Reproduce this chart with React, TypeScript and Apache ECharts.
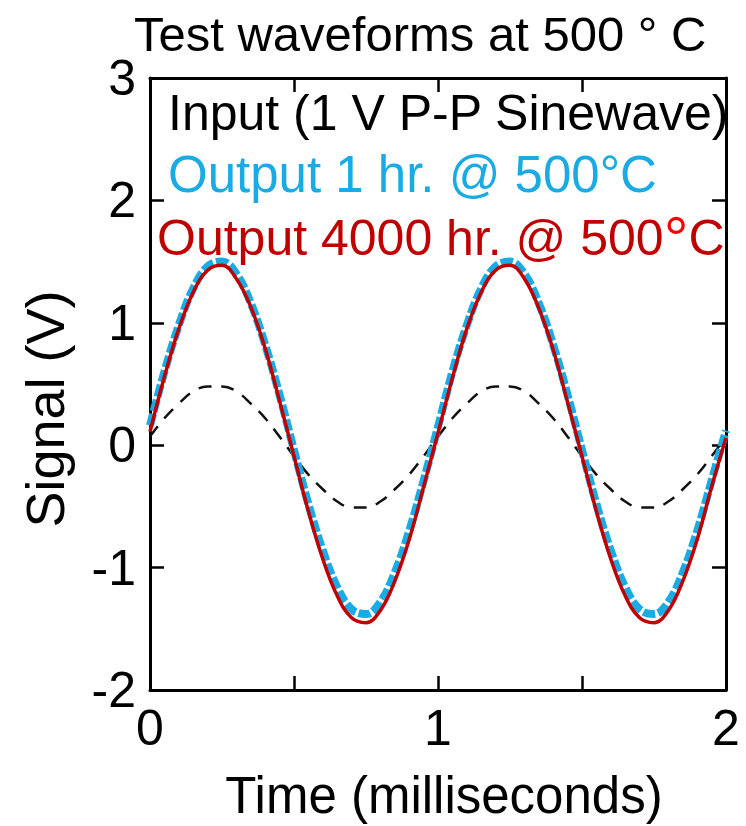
import React, { useEffect, useRef } from "react";
import * as echarts from "echarts";

const times = [
  0, 0.05, 0.1, 0.15, 0.2, 0.25, 0.3, 0.35, 0.4, 0.45,
  0.5, 0.55, 0.6, 0.65, 0.7, 0.75, 0.8, 0.85, 0.9, 0.95,
  1.0, 1.05, 1.1, 1.15, 1.2, 1.25, 1.3, 1.35, 1.4, 1.45,
  1.5, 1.55, 1.6, 1.65, 1.7, 1.75, 1.8, 1.85, 1.9, 1.95, 2.0,
];

const inputSignal = [
  0.07, 0.22, 0.34, 0.44, 0.48, 0.48, 0.44, 0.34, 0.22, 0.07,
  -0.09, -0.24, -0.36, -0.46, -0.51, -0.51, -0.46, -0.36, -0.24, -0.09,
  0.07, 0.22, 0.34, 0.44, 0.48, 0.48, 0.44, 0.34, 0.22, 0.07,
  -0.09, -0.24, -0.36, -0.46, -0.51, -0.51, -0.46, -0.36, -0.24, -0.09, 0.07,
];

const output1hr = [
  0.16, 0.6, 0.98, 1.28, 1.46, 1.5, 1.4, 1.16, 0.82, 0.41,
  -0.04, -0.48, -0.86, -1.16, -1.34, -1.38, -1.28, -1.04, -0.7, -0.29,
  0.15, 0.6, 0.98, 1.28, 1.46, 1.5, 1.4, 1.16, 0.82, 0.41,
  -0.04, -0.48, -0.86, -1.16, -1.34, -1.38, -1.28, -1.04, -0.7, -0.29, 0.12,
];

const output4000hr = [
  0.11, 0.56, 0.95, 1.25, 1.43, 1.47, 1.36, 1.13, 0.79, 0.36,
  -0.09, -0.54, -0.93, -1.23, -1.41, -1.45, -1.35, -1.11, -0.77, -0.34,
  0.1, 0.55, 0.95, 1.25, 1.43, 1.47, 1.36, 1.12, 0.78, 0.35,
  -0.09, -0.54, -0.93, -1.23, -1.41, -1.45, -1.35, -1.11, -0.77, -0.34, 0.06,
];

const titleText = "Test waveforms at 500 ° C";
const xName = "Time (milliseconds)";
const yName = "Signal (V)";
const legendInput = "Input (1 V P-P Sinewave)";
const legendOut1 = "Output 1 hr. @ 500°C";
const legendOut4000 = "Output 4000 hr. @ 500";

const FONT = "'Liberation Sans', Arial, sans-serif";

export default function App() {
  const ref = useRef<HTMLDivElement>(null);
  useEffect(() => {
    if (!ref.current) return;
    document.body.style.margin = "0";
    const chart = echarts.init(ref.current, null, { renderer: "svg" });
    const pair = (arr: number[]) => times.map((t, i) => [t, arr[i]]);
    const axisLine = { show: true, onZero: false, lineStyle: { color: "#000", width: 3 } };
    const axisTick = { show: true, inside: true, length: 14, lineStyle: { color: "#000", width: 2.5 } };
    chart.setOption({
      animation: false,
      backgroundColor: "#fff",
      title: {
        text: titleText,
        left: 134,
        top: 9,
        padding: 0,
        textStyle: { fontFamily: FONT, fontSize: 49, fontWeight: "normal", color: "#000" },
      },
      grid: {
        left: 150,
        right: 20,
        top: 78,
        bottom: 136,
        containLabel: false,
        outerBoundsMode: "none",
      },
      xAxis: [
        {
          type: "value",
          min: 0,
          max: 2,
          interval: 0.5,
          position: "bottom",
          axisLine,
          axisTick,
          splitLine: { show: false },
          axisLabel: {
            margin: 13,
            fontFamily: FONT,
            fontSize: 50,
            color: "#000",
            showMinLabel: true,
            showMaxLabel: true,
            formatter: (v: number) => (Number.isInteger(v) ? String(v) : ""),
          },
          name: xName,
          nameLocation: "middle",
          nameGap: 80,
          nameTextStyle: { fontFamily: FONT, fontSize: 51, color: "#000", padding: [0, 0, 0, 12] },
        },
        {
          type: "value",
          min: 0,
          max: 2,
          interval: 0.5,
          position: "top",
          axisLine,
          axisTick,
          splitLine: { show: false },
          axisLabel: { show: false },
        },
      ],
      yAxis: [
        {
          type: "value",
          min: -2,
          max: 3,
          interval: 1,
          position: "left",
          axisLine,
          axisTick,
          splitLine: { show: false },
          axisLabel: { margin: 14, fontFamily: FONT, fontSize: 50, color: "#000" },
          name: yName,
          nameLocation: "middle",
          nameGap: 78,
          nameTextStyle: { fontFamily: FONT, fontSize: 54, color: "#000", padding: [0, 50, 0, 0] },
        },
        {
          type: "value",
          min: -2,
          max: 3,
          interval: 1,
          position: "right",
          axisLine,
          axisTick,
          splitLine: { show: false },
          axisLabel: { show: false },
        },
      ],
      series: [
        {
          name: "Input",
          type: "line",
          data: pair(inputSignal),
          smooth: 0.4,
          showSymbol: false,
          lineStyle: { color: "#111", width: 2.5, type: [13, 10] },
          z: 2,
        },
        {
          name: "Output 1 hr",
          type: "line",
          data: pair(output1hr),
          smooth: 0.4,
          showSymbol: false,
          lineStyle: { color: "#1AABE4", width: 8, type: [12, 3] },
          z: 3,
        },
        {
          name: "Output 4000 hr",
          type: "line",
          data: pair(output4000hr),
          smooth: 0.4,
          showSymbol: false,
          lineStyle: { color: "#C00000", width: 3.5 },
          z: 4,
        },
      ],
      graphic: [
        {
          type: "text",
          left: 168,
          top: 88,
          z: 10,
          style: { text: legendInput, fontFamily: FONT, fontSize: 50, fill: "#000" },
        },
        {
          type: "text",
          left: 168,
          top: 149,
          z: 10,
          style: { text: legendOut1, fontFamily: FONT, fontSize: 51, fill: "#1AABE4" },
        },
        {
          type: "text",
          left: 157,
          top: 207,
          z: 1,
          style: {
            text: legendOut4000 + "{d|°}C",
            fontFamily: FONT,
            fontSize: 50,
            fill: "#C00000",
            rich: { d: { fontSize: 62, fill: "#FF0000", fontFamily: FONT } },
          },
        },
      ],
    });
    return () => chart.dispose();
  }, []);
  return <div ref={ref} style={{ width: 746, height: 826 }} />;
}
